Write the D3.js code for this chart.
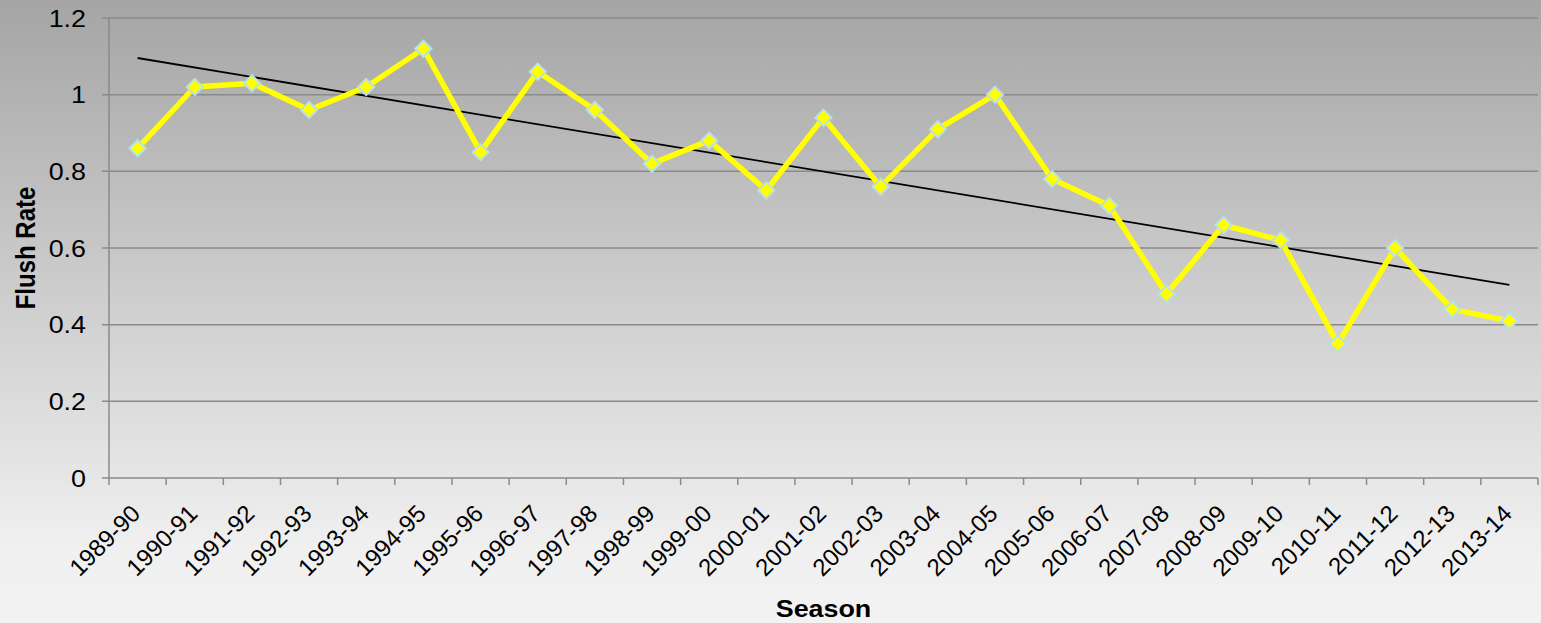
<!DOCTYPE html>
<html>
<head>
<meta charset="utf-8">
<script src="https://cdn.jsdelivr.net/npm/d3@7"></script>
<style>
  html, body { margin: 0; padding: 0; background: #f2f2f2; }
  svg { display: block; font-family: "Liberation Sans", Arial, sans-serif; }
</style>
</head>
<body>
<svg id="chart" width="1541" height="623"></svg>
<script>
// data
const seasons = ["1989-90", "1990-91", "1991-92", "1992-93", "1993-94", "1994-95", "1995-96",
  "1996-97", "1997-98", "1998-99", "1999-00", "2000-01", "2001-02", "2002-03", "2003-04",
  "2004-05", "2005-06", "2006-07", "2007-08", "2008-09", "2009-10", "2010-11", "2011-12",
  "2012-13", "2013-14"];
const flushRate = [0.86, 1.02, 1.03, 0.96, 1.02, 1.12, 0.85, 1.06, 0.96, 0.82, 0.88, 0.75,
  0.94, 0.76, 0.91, 1.00, 0.78, 0.71, 0.48, 0.66, 0.62, 0.35, 0.60, 0.44, 0.41];
const yTicks = [0, 0.2, 0.4, 0.6, 0.8, 1, 1.2];

const colors = {
  grid: "#8a8a8a",
  line: "#ffff00",
  markerStroke: "#b7e1e6",
  trend: "#000000",
  text: "#000000"
};

const width = 1541, height = 623;
const margin = { left: 109, right: 3, top: 18, bottom: 145 };
const stretch = 1.12; // the source picture is a bit wider than tall

const svg = d3.select("#chart");

// background gradient
const defs = svg.append("defs");
const grad = defs.append("linearGradient")
  .attr("id", "bg").attr("x1", 0).attr("y1", 0).attr("x2", 0).attr("y2", 1);
grad.append("stop").attr("offset", "0%").attr("stop-color", "#a5a5a5");
grad.append("stop").attr("offset", "88%").attr("stop-color", "#f0f0f0");
grad.append("stop").attr("offset", "100%").attr("stop-color", "#f2f2f2");
svg.append("rect").attr("width", width).attr("height", height).attr("fill", "url(#bg)");

const x = d3.scaleBand()
  .domain(seasons)
  .range([margin.left, width - margin.right]);

const y = d3.scaleLinear()
  .domain([0, 1.2])
  .range([height - margin.bottom, margin.top]);

// gridlines
svg.append("g")
  .selectAll("line")
  .data(yTicks)
  .enter().append("line")
  .attr("x1", margin.left - 7)
  .attr("x2", width - margin.right)
  .attr("y1", d => y(d))
  .attr("y2", d => y(d))
  .attr("stroke", colors.grid)
  .attr("stroke-width", 1.5);

// y axis line
svg.append("line")
  .attr("x1", margin.left).attr("x2", margin.left)
  .attr("y1", y(1.2)).attr("y2", y(0))
  .attr("stroke", colors.grid).attr("stroke-width", 1.5);

// y tick labels
svg.append("g")
  .selectAll("text")
  .data(yTicks)
  .enter().append("text")
  .attr("transform", d => `translate(86,${y(d)}) scale(${stretch},1)`)
  .attr("dy", "0.36em")
  .attr("text-anchor", "end")
  .attr("font-size", 24)
  .attr("fill", colors.text)
  .text(d => d);

// x axis ticks (category boundaries)
const xTickPos = seasons.map(s => x(s)).concat([width - margin.right]);
svg.append("g")
  .selectAll("line")
  .data(xTickPos)
  .enter().append("line")
  .attr("x1", d => d).attr("x2", d => d)
  .attr("y1", y(0)).attr("y2", y(0) + 7)
  .attr("stroke", colors.grid).attr("stroke-width", 1.5);

// x tick labels
svg.append("g")
  .selectAll("text")
  .data(seasons)
  .enter().append("text")
  .attr("transform", d => `translate(${x(d) + x.bandwidth() / 2 - 2},${y(0) + 31}) rotate(-45)`)
  .attr("text-anchor", "end")
  .attr("dy", "0.36em")
  .attr("font-size", 24)
  .attr("fill", colors.text)
  .text(d => d);

// linear trendline from least squares fit
const n = flushRate.length;
const idx = d3.range(n);
const mx = d3.mean(idx), my = d3.mean(flushRate);
const slope = d3.sum(idx, i => (i - mx) * (flushRate[i] - my)) / d3.sum(idx, i => (i - mx) ** 2);
const intercept = my - slope * mx;
const cx = i => x(seasons[i]) + x.bandwidth() / 2;

svg.append("line")
  .attr("x1", cx(0)).attr("y1", y(intercept))
  .attr("x2", cx(n - 1)).attr("y2", y(intercept + slope * (n - 1)))
  .attr("stroke", colors.trend)
  .attr("stroke-width", 1.8);

// data line
const line = d3.line()
  .x((d, i) => cx(i))
  .y(d => y(d));

svg.append("path")
  .datum(flushRate)
  .attr("d", line)
  .attr("fill", "none")
  .attr("stroke", colors.line)
  .attr("stroke-width", 5.5)
  .attr("stroke-linejoin", "round");

// diamond markers
const diamond = d3.symbol().type(d3.symbolSquare).size(130);
svg.append("g")
  .selectAll("path")
  .data(flushRate)
  .enter().append("path")
  .attr("d", diamond)
  .attr("transform", (d, i) => `translate(${cx(i)},${y(d)}) rotate(45)`)
  .attr("fill", colors.line)
  .attr("stroke", colors.markerStroke)
  .attr("stroke-width", 2);

// axis titles
svg.append("text")
  .attr("transform", `translate(${(margin.left + width - margin.right) / 2},617) scale(${stretch},1)`)
  .attr("text-anchor", "middle")
  .attr("font-size", 24)
  .attr("font-weight", "bold")
  .attr("fill", colors.text)
  .text("Season");

svg.append("text")
  .attr("transform", `translate(35,${(y(0) + y(1.2)) / 2}) rotate(-90) scale(1,${stretch})`)
  .attr("text-anchor", "middle")
  .attr("font-size", 24)
  .attr("font-weight", "bold")
  .attr("fill", colors.text)
  .text("Flush Rate");
</script>
</body>
</html>
